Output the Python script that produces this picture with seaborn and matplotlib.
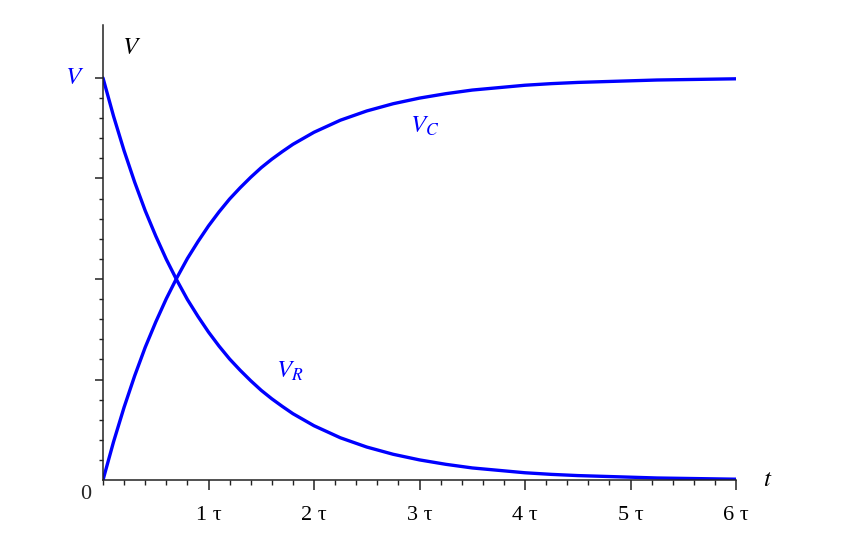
import matplotlib
matplotlib.use("Agg")
import matplotlib.pyplot as plt
import seaborn as sns
import pandas as pd
from matplotlib.ticker import MultipleLocator, FixedLocator

# time in units of tau
t_tau = [0.0, 0.1, 0.2, 0.3, 0.4, 0.5, 0.6, 0.7, 0.8, 0.9, 1.0, 1.1, 1.2, 1.3,
         1.4, 1.5, 1.6, 1.7, 1.8, 1.9, 2.0, 2.25, 2.5, 2.75, 3.0, 3.25, 3.5,
         3.75, 4.0, 4.25, 4.5, 4.75, 5.0, 5.25, 5.5, 5.75, 6.0]
# resistor voltage (fraction of V)
v_r = [1.000, 0.905, 0.819, 0.741, 0.670, 0.607, 0.549, 0.497, 0.449, 0.407,
       0.368, 0.333, 0.301, 0.273, 0.247, 0.223, 0.202, 0.183, 0.165, 0.150,
       0.135, 0.105, 0.082, 0.064, 0.050, 0.039, 0.030, 0.024, 0.018, 0.014,
       0.011, 0.009, 0.007, 0.005, 0.004, 0.003, 0.002]
# capacitor voltage (fraction of V)
v_c = [0.000, 0.095, 0.181, 0.259, 0.330, 0.393, 0.451, 0.503, 0.551, 0.593,
       0.632, 0.667, 0.699, 0.727, 0.753, 0.777, 0.798, 0.817, 0.835, 0.850,
       0.865, 0.895, 0.918, 0.936, 0.950, 0.961, 0.970, 0.976, 0.982, 0.986,
       0.989, 0.991, 0.993, 0.995, 0.996, 0.997, 0.998]
x_ticks = [1, 2, 3, 4, 5, 6]
x_tick_labels = ["1 τ", "2 τ", "3 τ", "4 τ", "5 τ", "6 τ"]
y_major = [0.25, 0.5, 0.75, 1.0]
y_minor = [0.05, 0.10, 0.15, 0.20, 0.30, 0.35, 0.40, 0.45, 0.55, 0.60, 0.65,
           0.70, 0.80, 0.85, 0.90, 0.95]

sns.set_style("ticks")
plt.rcParams["font.family"] = ["Liberation Serif", "DejaVu Serif"]
plt.rcParams["mathtext.fontset"] = "stix"

df = pd.DataFrame({"t": t_tau * 2,
                   "v": v_r + v_c,
                   "curve": ["VR"] * len(t_tau) + ["VC"] * len(t_tau)})

fig = plt.figure(figsize=(8.58, 5.38), dpi=100)
ax = fig.add_axes([103 / 858, (538 - 480) / 538, (736 - 103) / 858, (480 - 25) / 538])

blue = "#0000ff"
sns.lineplot(data=df, x="t", y="v", units="curve", estimator=None,
             color=blue, linewidth=2.4, ax=ax, legend=False)

ax.set_xlim(0, 6)
ax.set_ylim(0, (480 - 25) / 402)
ax.set_xlabel("")
ax.set_ylabel("")

for s in ["top", "right"]:
    ax.spines[s].set_visible(False)
for s in ["left", "bottom"]:
    ax.spines[s].set_color("#222222")
    ax.spines[s].set_linewidth(1.1)

ax.set_xticks(x_ticks)
ax.set_xticklabels(x_tick_labels, fontsize=16, color="black")
ax.xaxis.set_minor_locator(MultipleLocator(0.2))
ax.set_yticks(y_major)
ax.set_yticklabels([""] * len(y_major))
ax.yaxis.set_minor_locator(FixedLocator(y_minor))
ax.tick_params(axis="x", which="major", direction="out", length=7, width=1.1,
               color="#222222", pad=12, bottom=True)
ax.tick_params(axis="x", which="minor", direction="out", length=3.5, width=1.0,
               color="#222222", bottom=True)
ax.tick_params(axis="y", which="major", direction="out", length=6, width=1.1,
               color="#222222", left=True)
ax.tick_params(axis="y", which="minor", direction="out", length=3, width=1.0,
               color="#222222", left=True)

# axis annotations
ax.text(-0.16, -0.035, "0", fontsize=16, ha="center", va="center",
        transform=ax.transData)
ax.text(-0.27, 1.0, r"$V$", fontsize=18, color=blue, ha="center", va="center")
ax.text(0.27, 1.075, r"$V$", fontsize=18, color="black", ha="center", va="center")
ax.text(6.3, 0.0, r"$t$", fontsize=18, color="black", ha="center", va="center",
        clip_on=False)
ax.text(3.05, 0.88, r"$V_C$", fontsize=18, color=blue, ha="center", va="center")
ax.text(1.77, 0.27, r"$V_R$", fontsize=18, color=blue, ha="center", va="center")

fig.savefig("out.png", dpi=100)
